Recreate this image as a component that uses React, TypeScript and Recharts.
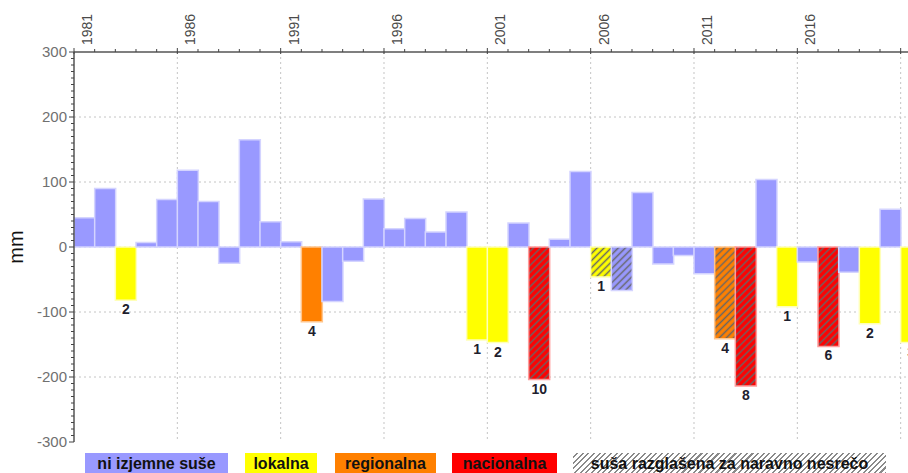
import { BarChart, Bar, XAxis, YAxis, CartesianGrid, Cell, LabelList } from 'recharts';

// years (one bar each)
const years = [
  1981, 1982, 1983, 1984, 1985, 1986, 1987, 1988, 1989, 1990,
  1991, 1992, 1993, 1994, 1995, 1996, 1997, 1998, 1999, 2000,
  2001, 2002, 2003, 2004, 2005, 2006, 2007, 2008, 2009, 2010,
  2011, 2012, 2013, 2014, 2015, 2016, 2017, 2018, 2019, 2020, 2021,
];

// water balance anomaly (mm)
const anomaly = [
  45, 90, -82, 7, 73, 118, 70, -25, 165, 39,
  8, -115, -84, -22, 74, 28, 44, 23, 54, -143,
  -147, 37, -204, 12, 116, -46, -67, 84, -26, -13,
  -41, -141, -214, 104, -92, -23, -153, -39, -118, 58, -147,
];

// drought extent: n = ni izjemne suše, l = lokalna, r = regionalna, c = nacionalna
const extent = [
  'n', 'n', 'l', 'n', 'n', 'n', 'n', 'n', 'n', 'n',
  'n', 'r', 'n', 'n', 'n', 'n', 'n', 'n', 'n', 'l',
  'l', 'n', 'c', 'n', 'n', 'l', 'n', 'n', 'n', 'n',
  'n', 'r', 'c', 'n', 'l', 'n', 'c', 'n', 'l', 'n', 'l',
];

// years declared a natural disaster
const declared = [2003, 2006, 2007, 2012, 2013, 2017];

// numbers printed under the bars
const labelYears = [1983, 1992, 2000, 2001, 2003, 2006, 2012, 2013, 2015, 2017, 2019, 2021];
const labelValues = [2, 4, 1, 2, 10, 1, 4, 8, 1, 6, 2, 3];

const yTicks: number[] = [];
for (let v = -300; v <= 300; v += 10) yTicks.push(v);
const gridY = [-200, -100, 0, 100, 200];
const gridX = [1986, 1991, 1996, 2001, 2006, 2011, 2016, 2021];

const colors: Record<string, string> = { n: '#9999ff', l: '#ffff00', r: '#ff8000', c: '#ff0000' };
const edges: Record<string, string> = { n: '#d4d4ff', l: '#ffffb8', r: '#ffc58c', c: '#ff9c9c' };

const legendItems = [
  { name: 'ni izjemne suše', color: '#9999ff', left: 85, width: 143 },
  { name: 'lokalna', color: '#ffff00', left: 245, width: 72 },
  { name: 'regionalna', color: '#ff8000', left: 335, width: 101 },
  { name: 'nacionalna', color: '#ff0000', left: 452, width: 105 },
];

const data = years.map((year, i) => {
  const li = labelYears.indexOf(year);
  return {
    year,
    value: anomaly[i],
    extent: extent[i],
    hatched: declared.includes(year),
    label: li >= 0 ? labelValues[li] : null,
  };
});

function TopTick(props: any) {
  const { x, y, payload } = props;
  const v = payload.value;
  const major = (v - 1981) % 5 === 0;
  return (
    <g>
      <line x1={x} x2={x} y1={y - (major ? 4 : 3)} y2={y + (major ? 2 : 0)} stroke="#444" />
      {major && (
        <text
          x={x + 18}
          y={y - 7}
          transform={`rotate(-90 ${x + 18} ${y - 7})`}
          textAnchor="start"
          fontSize={14}
          fill="#4a4a4a"
        >
          {v}
        </text>
      )}
    </g>
  );
}

function LeftTick(props: any) {
  const { x, y, payload } = props;
  const v = payload.value;
  const major = v % 100 === 0;
  return (
    <g>
      <line x1={x - (major ? 5 : 3)} x2={x} y1={y} y2={y} stroke="#444" />
      {major && (
        <text x={x - 7} y={y} dy={5} textAnchor="end" fontSize={15} fill="#707070">
          {v}
        </text>
      )}
    </g>
  );
}

function BarNumber(props: any) {
  const { x, y, width, height, value } = props;
  if (value == null) return null;
  const bottom = Math.max(y, y + height);
  return (
    <text x={x + width / 2} y={bottom + 14} textAnchor="middle" fontSize={14} fontWeight="bold" fill="#1e1e2e">
      {value}
    </text>
  );
}

export default function App() {
  return (
    <div
      style={{
        position: 'fixed',
        left: 0,
        top: 0,
        width: 908,
        height: 473,
        overflow: 'hidden',
        background: '#fff',
        fontFamily: '"Liberation Sans", Arial, sans-serif',
      }}
    >
      <BarChart
        width={930}
        height={473}
        data={data}
        margin={{ top: 0, right: 8.67, bottom: 31, left: 0 }}
        barCategoryGap={0}
        barGap={0}
        style={{ fontFamily: '"Liberation Sans", Arial, sans-serif' }}
      >
        <defs>
          {Object.keys(colors).map((k) => (
            <pattern
              key={k}
              id={`hatch-${k}`}
              patternUnits="userSpaceOnUse"
              width={5}
              height={5}
              patternTransform="rotate(45)"
            >
              <rect width={5} height={5} fill={colors[k]} />
              <line x1={2.5} y1={0} x2={2.5} y2={5} stroke="#666" strokeWidth={1.5} />
            </pattern>
          ))}
        </defs>
        <CartesianGrid
          xAxisId="top"
          horizontalValues={gridY}
          verticalValues={gridX}
          stroke="#c4c4c4"
          strokeDasharray="2 3"
        />
        <XAxis
          xAxisId="cat"
          dataKey="year"
          type="category"
          orientation="bottom"
          height={0}
          tick={false}
          tickLine={false}
          axisLine={{ stroke: '#555', strokeWidth: 1.5 }}
        />
        <XAxis
          xAxisId="top"
          dataKey="year"
          type="number"
          orientation="top"
          domain={[1981, 2022]}
          allowDataOverflow
          ticks={years}
          interval={0}
          height={52}
          tickSize={0}
          tickMargin={0}
          tickLine={false}
          tick={<TopTick />}
          axisLine={{ stroke: '#555', strokeWidth: 1.5 }}
        />
        <YAxis
          domain={[-300, 300]}
          allowDataOverflow
          ticks={yTicks}
          interval={0}
          width={74}
          tickSize={0}
          tickMargin={0}
          tickLine={false}
          tick={<LeftTick />}
          axisLine={{ stroke: '#555', strokeWidth: 1.5 }}
          label={{
            content: () => (
              <text x={23} y={247} transform="rotate(-90 23 247)" textAnchor="middle" fontSize={20} fill="#111">
                mm
              </text>
            ),
          }}
        />
        <Bar dataKey="value" xAxisId="cat" isAnimationActive={false} strokeWidth={1.5}>
          {data.map((d) => (
            <Cell
              key={d.year}
              fill={d.hatched ? `url(#hatch-${d.extent})` : colors[d.extent]}
              stroke={edges[d.extent]}
            />
          ))}
          <LabelList dataKey="label" content={<BarNumber />} />
        </Bar>
      </BarChart>

      {legendItems.map((item) => (
        <div
          key={item.name}
          style={{
            position: 'absolute',
            left: item.left,
            top: 453,
            width: item.width,
            height: 22,
            lineHeight: '22px',
            background: item.color,
            textAlign: 'center',
            fontWeight: 'bold',
            fontSize: 16,
            color: '#111',
          }}
        >
          {item.name}
        </div>
      ))}
      <div
        style={{
          position: 'absolute',
          left: 573,
          top: 453,
          width: 313,
          height: 22,
          lineHeight: '22px',
          background:
            'repeating-linear-gradient(135deg, #ffffff 0px, #ffffff 2.5px, #8a8a8a 2.5px, #8a8a8a 4px)',
          textAlign: 'center',
          fontWeight: 'bold',
          fontSize: 16,
          color: '#111',
        }}
      >
        suša razglašena za naravno nesrečo
      </div>
    </div>
  );
}
